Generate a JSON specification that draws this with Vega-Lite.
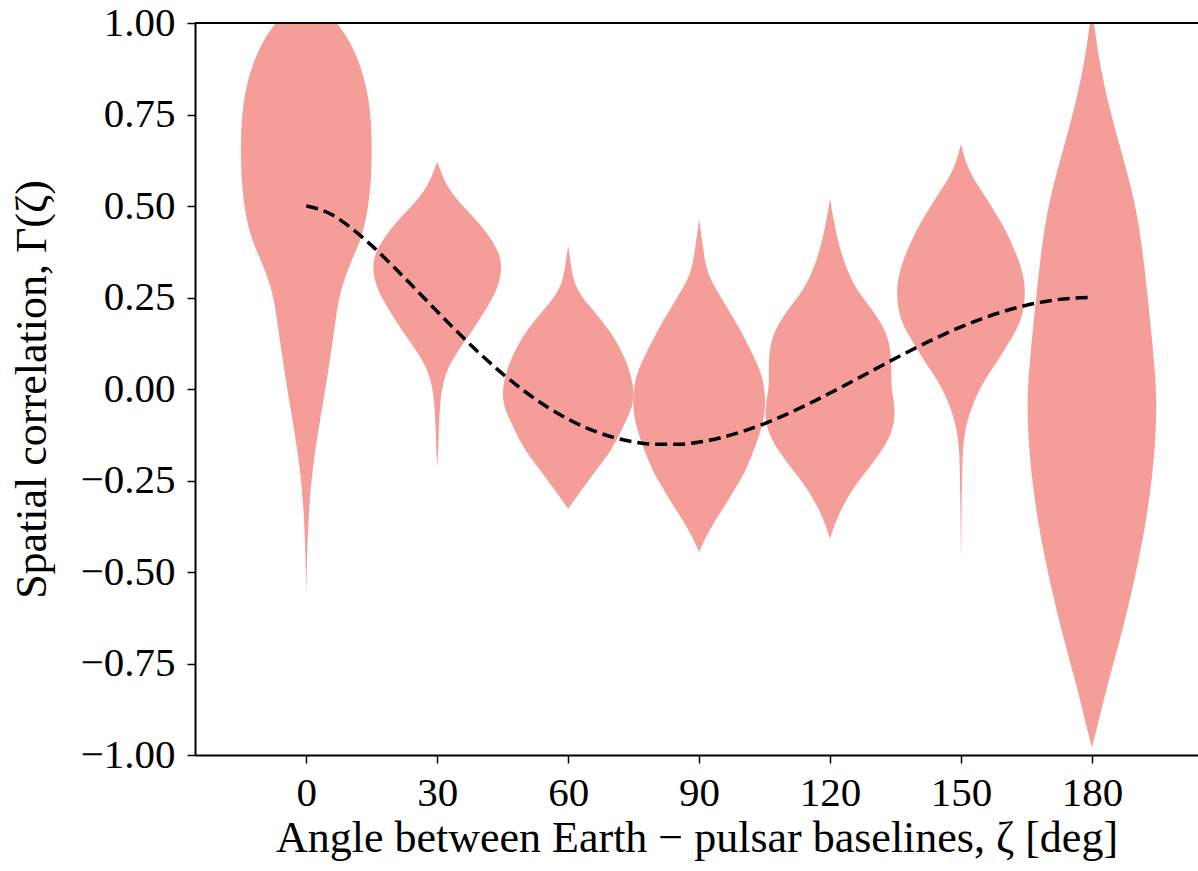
{
  "$schema": "https://vega.github.io/schema/vega-lite/v6.json",
  "width": 1003,
  "height": 732,
  "autosize": {"type": "none"},
  "padding": {"left": 195, "top": 23, "right": 0, "bottom": 116},
  "background": "white",
  "config": {
    "view": {"stroke": null},
    "font": "Liberation Serif",
    "axis": {
      "labelFont": "Liberation Serif",
      "titleFont": "Liberation Serif",
      "labelFontSize": 41,
      "titleFontSize": 44,
      "titleFontWeight": "normal",
      "labelColor": "black",
      "titleColor": "black",
      "domainColor": "black",
      "domainWidth": 2,
      "tickColor": "black",
      "tickWidth": 1.5,
      "tickSize": 8,
      "grid": false
    }
  },
  "datasets": {
    "violins": [
      {"g": 0, "y": 1.13, "lo": 0, "hi": 0},
      {"g": 0, "y": 1.10, "lo": -1.0, "hi": 1.0},
      {"g": 0, "y": 1.05, "lo": -3.5, "hi": 3.5},
      {"g": 0, "y": 0.998, "lo": -7.3, "hi": 7.3},
      {"g": 0, "y": 0.93, "lo": -11.1, "hi": 11.1},
      {"g": 0, "y": 0.825, "lo": -14.0, "hi": 14.0},
      {"g": 0, "y": 0.72, "lo": -15.0, "hi": 15.0},
      {"g": 0, "y": 0.615, "lo": -15.0, "hi": 15.0},
      {"g": 0, "y": 0.531, "lo": -14.6, "hi": 14.6},
      {"g": 0, "y": 0.458, "lo": -13.6, "hi": 13.6},
      {"g": 0, "y": 0.406, "lo": -12.4, "hi": 12.4},
      {"g": 0, "y": 0.354, "lo": -10.5, "hi": 10.5},
      {"g": 0, "y": 0.301, "lo": -8.7, "hi": 8.7},
      {"g": 0, "y": 0.249, "lo": -7.5, "hi": 7.5},
      {"g": 0, "y": 0.197, "lo": -6.8, "hi": 6.8},
      {"g": 0, "y": 0.092, "lo": -5.57, "hi": 5.57},
      {"g": 0, "y": -0.013, "lo": -4.2, "hi": 4.2},
      {"g": 0, "y": -0.117, "lo": -2.67, "hi": 2.67},
      {"g": 0, "y": -0.222, "lo": -1.37, "hi": 1.37},
      {"g": 0, "y": -0.327, "lo": -0.61, "hi": 0.61},
      {"g": 0, "y": -0.431, "lo": -0.23, "hi": 0.23},
      {"g": 0, "y": -0.557, "lo": 0, "hi": 0},

      {"g": 30, "y": 0.620, "lo": 30, "hi": 30},
      {"g": 30, "y": 0.597, "lo": 29.24, "hi": 30.76},
      {"g": 30, "y": 0.561, "lo": 28.1, "hi": 31.9},
      {"g": 30, "y": 0.515, "lo": 25.42, "hi": 34.58},
      {"g": 30, "y": 0.469, "lo": 21.6, "hi": 38.4},
      {"g": 30, "y": 0.424, "lo": 18.4, "hi": 41.6},
      {"g": 30, "y": 0.378, "lo": 16.0, "hi": 44.0},
      {"g": 30, "y": 0.337, "lo": 15.1, "hi": 44.9},
      {"g": 30, "y": 0.287, "lo": 15.8, "hi": 44.2},
      {"g": 30, "y": 0.242, "lo": 17.6, "hi": 42.4},
      {"g": 30, "y": 0.196, "lo": 20.0, "hi": 40.0},
      {"g": 30, "y": 0.151, "lo": 22.4, "hi": 37.6},
      {"g": 30, "y": 0.105, "lo": 25.23, "hi": 34.77},
      {"g": 30, "y": 0.060, "lo": 27.5, "hi": 32.5},
      {"g": 30, "y": 0.014, "lo": 28.74, "hi": 31.26},
      {"g": 30, "y": -0.031, "lo": 29.31, "hi": 30.69},
      {"g": 30, "y": -0.077, "lo": 29.5, "hi": 30.5},
      {"g": 30, "y": -0.122, "lo": 29.66, "hi": 30.34},
      {"g": 30, "y": -0.168, "lo": 29.77, "hi": 30.23},
      {"g": 30, "y": -0.214, "lo": 30, "hi": 30},

      {"g": 60, "y": 0.392, "lo": 60, "hi": 60},
      {"g": 60, "y": 0.342, "lo": 59.39, "hi": 60.61},
      {"g": 60, "y": 0.296, "lo": 58.85, "hi": 61.15},
      {"g": 60, "y": 0.251, "lo": 56.95, "hi": 63.05},
      {"g": 60, "y": 0.205, "lo": 53.5, "hi": 66.5},
      {"g": 60, "y": 0.160, "lo": 50.5, "hi": 69.5},
      {"g": 60, "y": 0.114, "lo": 48.2, "hi": 71.8},
      {"g": 60, "y": 0.069, "lo": 46.4, "hi": 73.6},
      {"g": 60, "y": 0.005, "lo": 44.9, "hi": 75.1},
      {"g": 60, "y": -0.040, "lo": 45.1, "hi": 74.9},
      {"g": 60, "y": -0.077, "lo": 46.3, "hi": 73.7},
      {"g": 60, "y": -0.113, "lo": 47.8, "hi": 72.2},
      {"g": 60, "y": -0.159, "lo": 49.7, "hi": 70.3},
      {"g": 60, "y": -0.204, "lo": 52.4, "hi": 67.6},
      {"g": 60, "y": -0.250, "lo": 55.4, "hi": 64.6},
      {"g": 60, "y": -0.296, "lo": 58.1, "hi": 61.9},
      {"g": 60, "y": -0.327, "lo": 60, "hi": 60},

      {"g": 90, "y": 0.465, "lo": 90, "hi": 90},
      {"g": 90, "y": 0.410, "lo": 89.39, "hi": 90.61},
      {"g": 90, "y": 0.365, "lo": 88.85, "hi": 91.15},
      {"g": 90, "y": 0.319, "lo": 88.17, "hi": 91.83},
      {"g": 90, "y": 0.274, "lo": 86.2, "hi": 93.8},
      {"g": 90, "y": 0.228, "lo": 83.9, "hi": 96.1},
      {"g": 90, "y": 0.183, "lo": 81.6, "hi": 98.4},
      {"g": 90, "y": 0.137, "lo": 79.5, "hi": 100.5},
      {"g": 90, "y": 0.092, "lo": 77.6, "hi": 102.4},
      {"g": 90, "y": 0.046, "lo": 75.8, "hi": 104.2},
      {"g": 90, "y": 0.001, "lo": 75.0, "hi": 105.0},
      {"g": 90, "y": -0.045, "lo": 74.8, "hi": 105.2},
      {"g": 90, "y": -0.091, "lo": 75.3, "hi": 104.7},
      {"g": 90, "y": -0.136, "lo": 76.5, "hi": 103.5},
      {"g": 90, "y": -0.182, "lo": 77.9, "hi": 102.1},
      {"g": 90, "y": -0.227, "lo": 79.5, "hi": 100.5},
      {"g": 90, "y": -0.273, "lo": 81.75, "hi": 98.25},
      {"g": 90, "y": -0.318, "lo": 84.04, "hi": 95.96},
      {"g": 90, "y": -0.364, "lo": 86.56, "hi": 93.44},
      {"g": 90, "y": -0.409, "lo": 88.7, "hi": 91.3},
      {"g": 90, "y": -0.446, "lo": 90, "hi": 90},

      {"g": 120, "y": 0.520, "lo": 120, "hi": 120},
      {"g": 120, "y": 0.465, "lo": 119.24, "hi": 120.76},
      {"g": 120, "y": 0.374, "lo": 117.7, "hi": 122.3},
      {"g": 120, "y": 0.283, "lo": 114.7, "hi": 125.3},
      {"g": 120, "y": 0.237, "lo": 111.6, "hi": 128.4},
      {"g": 120, "y": 0.192, "lo": 108.9, "hi": 131.1},
      {"g": 120, "y": 0.146, "lo": 106.8, "hi": 133.2},
      {"g": 120, "y": 0.101, "lo": 106.1, "hi": 133.9},
      {"g": 120, "y": 0.055, "lo": 105.9, "hi": 134.1},
      {"g": 120, "y": 0.010, "lo": 106.1, "hi": 133.9},
      {"g": 120, "y": -0.036, "lo": 105.3, "hi": 134.7},
      {"g": 120, "y": -0.081, "lo": 105.1, "hi": 134.9},
      {"g": 120, "y": -0.127, "lo": 106.1, "hi": 133.9},
      {"g": 120, "y": -0.173, "lo": 108.4, "hi": 131.6},
      {"g": 120, "y": -0.218, "lo": 111.2, "hi": 128.8},
      {"g": 120, "y": -0.264, "lo": 114.3, "hi": 125.7},
      {"g": 120, "y": -0.309, "lo": 116.6, "hi": 123.4},
      {"g": 120, "y": -0.355, "lo": 118.5, "hi": 121.5},
      {"g": 120, "y": -0.409, "lo": 120, "hi": 120},

      {"g": 150, "y": 0.670, "lo": 150, "hi": 150},
      {"g": 150, "y": 0.615, "lo": 148.85, "hi": 151.15},
      {"g": 150, "y": 0.570, "lo": 146.95, "hi": 153.05},
      {"g": 150, "y": 0.524, "lo": 144.3, "hi": 155.7},
      {"g": 150, "y": 0.479, "lo": 142.0, "hi": 158.0},
      {"g": 150, "y": 0.433, "lo": 139.7, "hi": 160.3},
      {"g": 150, "y": 0.387, "lo": 138.0, "hi": 162.0},
      {"g": 150, "y": 0.342, "lo": 136.4, "hi": 163.6},
      {"g": 150, "y": 0.278, "lo": 135.1, "hi": 164.9},
      {"g": 150, "y": 0.205, "lo": 135.7, "hi": 164.3},
      {"g": 150, "y": 0.160, "lo": 137.3, "hi": 162.7},
      {"g": 150, "y": 0.114, "lo": 139.7, "hi": 160.3},
      {"g": 150, "y": 0.069, "lo": 142.0, "hi": 158.0},
      {"g": 150, "y": 0.023, "lo": 144.7, "hi": 155.3},
      {"g": 150, "y": -0.022, "lo": 146.6, "hi": 153.4},
      {"g": 150, "y": -0.068, "lo": 148.1, "hi": 151.9},
      {"g": 150, "y": -0.113, "lo": 149.08, "hi": 150.92},
      {"g": 150, "y": -0.159, "lo": 149.54, "hi": 150.46},
      {"g": 150, "y": -0.204, "lo": 149.7, "hi": 150.3},
      {"g": 150, "y": -0.296, "lo": 149.85, "hi": 150.15},
      {"g": 150, "y": -0.387, "lo": 149.92, "hi": 150.08},
      {"g": 150, "y": -0.469, "lo": 150, "hi": 150},

      {"g": 180, "y": 1.03, "lo": 180, "hi": 180},
      {"g": 180, "y": 1.0, "lo": 179.5, "hi": 180.5},
      {"g": 180, "y": 0.904, "lo": 178.47, "hi": 181.53},
      {"g": 180, "y": 0.773, "lo": 176.2, "hi": 183.8},
      {"g": 180, "y": 0.642, "lo": 173.1, "hi": 186.9},
      {"g": 180, "y": 0.511, "lo": 170.1, "hi": 189.9},
      {"g": 180, "y": 0.381, "lo": 168.4, "hi": 191.6},
      {"g": 180, "y": 0.250, "lo": 167.2, "hi": 192.8},
      {"g": 180, "y": 0.119, "lo": 166.1, "hi": 193.9},
      {"g": 180, "y": -0.012, "lo": 165.1, "hi": 194.9},
      {"g": 180, "y": -0.142, "lo": 165.4, "hi": 194.6},
      {"g": 180, "y": -0.273, "lo": 166.5, "hi": 193.5},
      {"g": 180, "y": -0.404, "lo": 168.2, "hi": 191.8},
      {"g": 180, "y": -0.535, "lo": 170.5, "hi": 189.5},
      {"g": 180, "y": -0.665, "lo": 173.1, "hi": 186.9},
      {"g": 180, "y": -0.796, "lo": 176.2, "hi": 183.8},
      {"g": 180, "y": -0.927, "lo": 178.85, "hi": 181.15},
      {"g": 180, "y": -0.979, "lo": 180, "hi": 180}
    ],
    "curve": [
      {"zeta": 0, "gamma": 0.5},
      {"zeta": 5, "gamma": 0.4816},
      {"zeta": 10, "gamma": 0.4425},
      {"zeta": 15, "gamma": 0.3917},
      {"zeta": 20, "gamma": 0.3341},
      {"zeta": 25, "gamma": 0.2732},
      {"zeta": 30, "gamma": 0.2116},
      {"zeta": 35, "gamma": 0.1514},
      {"zeta": 40, "gamma": 0.0942},
      {"zeta": 45, "gamma": 0.0414},
      {"zeta": 50, "gamma": -0.0062},
      {"zeta": 55, "gamma": -0.0476},
      {"zeta": 60, "gamma": -0.0824},
      {"zeta": 65, "gamma": -0.1102},
      {"zeta": 70, "gamma": -0.1309},
      {"zeta": 75, "gamma": -0.1445},
      {"zeta": 80, "gamma": -0.1511},
      {"zeta": 85, "gamma": -0.1511},
      {"zeta": 90, "gamma": -0.1449},
      {"zeta": 95, "gamma": -0.1329},
      {"zeta": 100, "gamma": -0.1159},
      {"zeta": 105, "gamma": -0.0945},
      {"zeta": 110, "gamma": -0.0693},
      {"zeta": 115, "gamma": -0.0413},
      {"zeta": 120, "gamma": -0.0111},
      {"zeta": 125, "gamma": 0.0203},
      {"zeta": 130, "gamma": 0.0522},
      {"zeta": 135, "gamma": 0.0839},
      {"zeta": 140, "gamma": 0.1145},
      {"zeta": 145, "gamma": 0.1433},
      {"zeta": 150, "gamma": 0.1697},
      {"zeta": 155, "gamma": 0.1931},
      {"zeta": 160, "gamma": 0.2130},
      {"zeta": 165, "gamma": 0.2289},
      {"zeta": 170, "gamma": 0.2406},
      {"zeta": 175, "gamma": 0.2476},
      {"zeta": 180, "gamma": 0.25}
    ]
  },
  "layer": [
    {
      "data": {"name": "violins"},
      "mark": {"type": "area", "orient": "horizontal", "color": "#F49D99", "opacity": 1, "clip": true, "interpolate": "basis"},
      "encoding": {
        "y": {
          "field": "y", "type": "quantitative",
          "scale": {"domain": [-1, 1], "nice": false, "zero": false},
          "axis": {
            "values": [-1, -0.75, -0.5, -0.25, 0, 0.25, 0.5, 0.75, 1],
            "format": ".2f",
            "labelExpr": "replace(datum.label, '-', '−')",
            "labelPadding": 12,
            "title": "Spatial correlation, Γ(ζ)",
            "titleX": -150,
            "titleY": 366,
            "titleAngle": 270,
            "titleAlign": "center",
            "titleBaseline": "alphabetic"
          }
        },
        "x": {
          "field": "lo", "type": "quantitative",
          "scale": {"domain": [-25.5, 204.3], "nice": false, "zero": false},
          "axis": {
            "values": [0, 30, 60, 90, 120, 150, 180],
            "labelPadding": 10,
            "labelFlush": false,
            "title": "Angle between Earth − pulsar baselines,  ζ [deg]",
            "titleY": 96,
            "titleBaseline": "alphabetic"
          }
        },
        "x2": {"field": "hi"},
        "detail": {"field": "g", "type": "nominal"}
      }
    },
    {
      "data": {"name": "curve"},
      "mark": {"type": "line", "color": "black", "strokeWidth": 3.5, "strokeDash": [12, 6], "interpolate": "monotone"},
      "encoding": {
        "x": {"field": "zeta", "type": "quantitative"},
        "y": {"field": "gamma", "type": "quantitative"}
      }
    },
    {
      "data": {"values": [{}]},
      "mark": {"type": "rule", "color": "black", "strokeWidth": 2},
      "encoding": {"y": {"datum": 1}}
    }
  ]
}
